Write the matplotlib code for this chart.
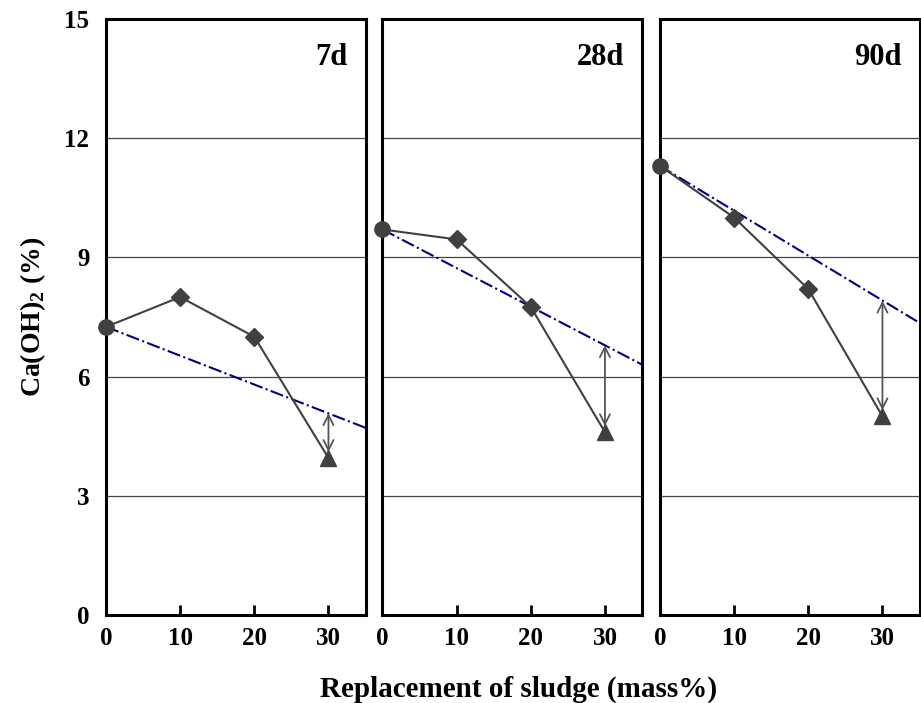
import matplotlib
matplotlib.use("Agg")
import matplotlib.pyplot as plt

plt.rcParams['font.family'] = ['Liberation Serif', 'DejaVu Serif']
plt.rcParams['font.weight'] = 'bold'
plt.rcParams['mathtext.fontset'] = 'custom'
plt.rcParams['mathtext.rm'] = 'Liberation Serif:bold'
plt.rcParams['mathtext.bf'] = 'Liberation Serif:bold'

x_vals = [0, 10, 20, 30]
ages = ["7d", "28d", "90d"]
caoh2 = {
    "7d": [7.25, 8.0, 7.0, 3.95],
    "28d": [9.7, 9.45, 7.75, 4.6],
    "90d": [11.3, 10.0, 8.2, 5.0],
}
dilution_x = [0, 35]
dilution_y = {
    "7d": [7.25, 4.71],
    "28d": [9.7, 6.3],
    "90d": [11.3, 7.35],
}
arrow_top = {"7d": 5.08, "28d": 6.79, "90d": 7.91}
y_ticks = [0, 3, 6, 9, 12, 15]
x_ticks = [0, 10, 20, 30]
markers = ['o', 'D', 'D', '^']

fig = plt.figure(figsize=(9.21, 7.03), dpi=100)
lefts = [0.1151, 0.4153, 0.7166]
bottom, height, width = 0.1252, 0.848, 0.2818
mk_color = '#404040'

for i, age in enumerate(ages):
    ax = fig.add_axes([lefts[i], bottom, width, height])
    ax.set_xlim(0, 35)
    ax.set_ylim(0, 15)
    for gy in [3, 6, 9, 12]:
        ax.axhline(gy, color='#444444', lw=0.9, zorder=1)
    ax.plot(dilution_x, dilution_y[age], color='#000080', ls='-.', lw=1.5, zorder=2)
    ys = caoh2[age]
    ax.plot(x_vals, ys, color=mk_color, lw=1.5, zorder=3, clip_on=False)
    for xv, yv, m in zip(x_vals, ys, markers):
        ms = {'o': 11, 'D': 9, '^': 12}[m]
        ax.plot([xv], [yv], marker=m, color=mk_color, ms=ms, ls='none', zorder=4, clip_on=False)
    ax.annotate('', xy=(30, ys[3] + 0.15), xytext=(30, arrow_top[age]),
                arrowprops=dict(arrowstyle='<->', color='#555555', lw=1.3,
                                mutation_scale=18, shrinkA=0, shrinkB=0), zorder=5)
    ax.text(0.93, 0.96, age, transform=ax.transAxes, ha='right', va='top',
            fontsize=22, fontweight='bold')
    for s in ax.spines.values():
        s.set_linewidth(2.2)
        s.set_color('black')
    ax.set_xticks(x_ticks)
    ax.set_xticklabels([str(t) for t in x_ticks], fontsize=18, fontweight='bold')
    ax.tick_params(axis='x', direction='in', length=7, width=2, pad=9)
    ax.set_yticks(y_ticks)
    if i == 0:
        ax.set_yticklabels([str(t) for t in y_ticks], fontsize=18, fontweight='bold')
        ax.tick_params(axis='y', length=0, pad=12)
        ax.set_ylabel(r'Ca(OH)$_2$ (%)', fontsize=20, fontweight='bold', labelpad=12)
    else:
        ax.set_yticklabels([])
        ax.tick_params(axis='y', length=0)

fig.text(0.563, 0.0, 'Replacement of sludge (mass%)', ha='center', va='bottom',
         fontsize=21, fontweight='bold')

fig.savefig('out.png', dpi=100)
